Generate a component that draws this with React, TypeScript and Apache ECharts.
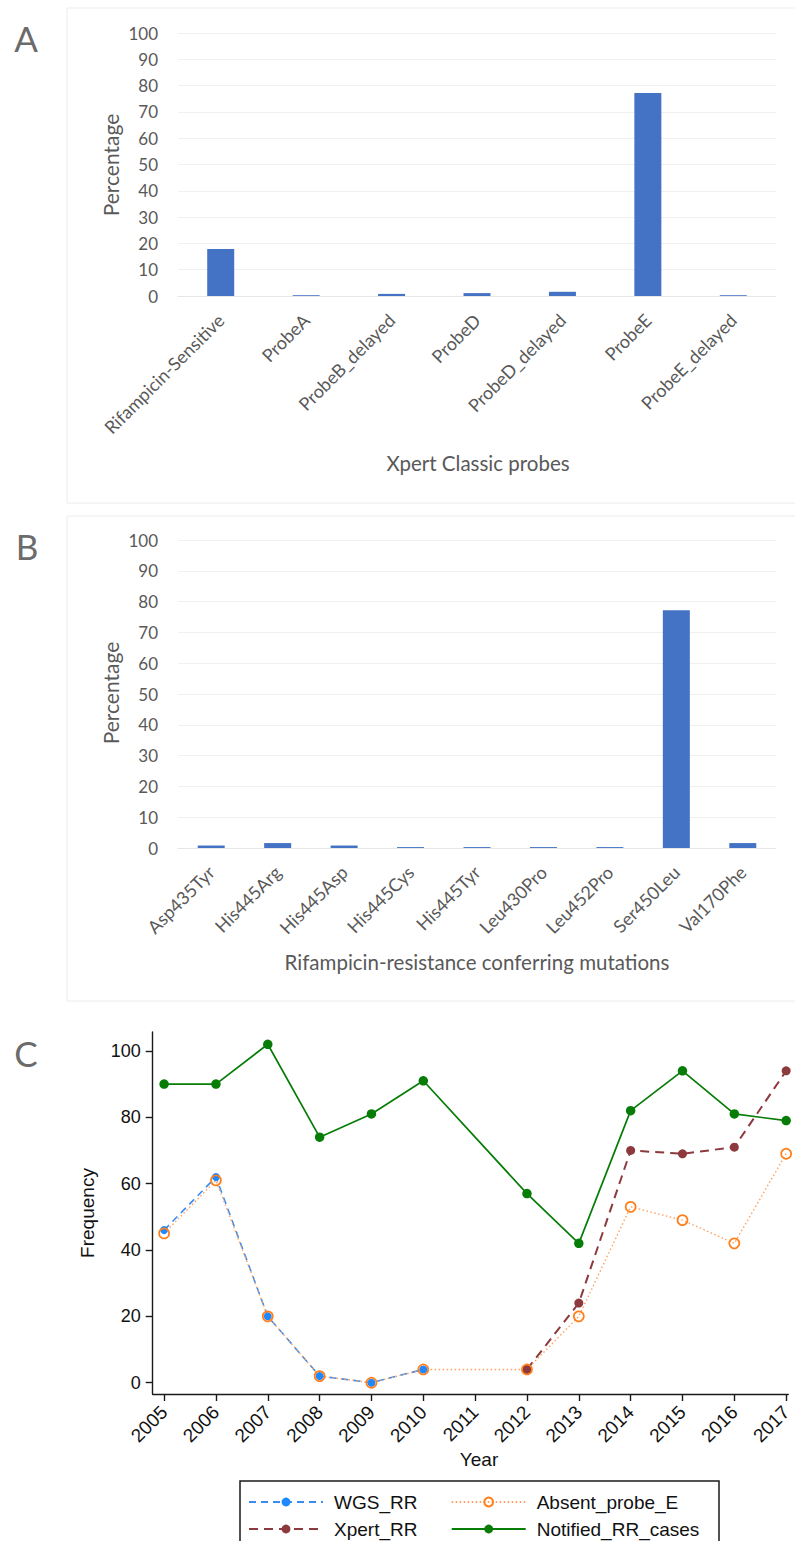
import React, { useEffect, useRef } from 'react';
import * as echarts from 'echarts';

const probeCategories = ['Rifampicin-Sensitive', 'ProbeA', 'ProbeB_delayed', 'ProbeD', 'ProbeD_delayed', 'ProbeE', 'ProbeE_delayed'];
const probeValues = [17.9, 0.3, 0.8, 1.1, 1.6, 77.2, 0.3];

const mutationCategories = ['Asp435Tyr', 'His445Arg', 'His445Asp', 'His445Cys', 'His445Tyr', 'Leu430Pro', 'Leu452Pro', 'Ser450Leu', 'Val170Phe'];
const mutationValues = [0.8, 1.6, 0.8, 0.3, 0.3, 0.3, 0.3, 77.2, 1.6];

const yearTicks = [2005, 2006, 2007, 2008, 2009, 2010, 2011, 2012, 2013, 2014, 2015, 2016, 2017];
const freqTicks = [0, 20, 40, 60, 80, 100];

const wgsYears = [2005, 2006, 2007, 2008, 2009, 2010];
const wgsValues = [46, 62, 20, 2, 0, 4];
const xpertYears = [2012, 2013, 2014, 2015, 2016, 2017];
const xpertValues = [4, 24, 70, 69, 71, 94];
const absentYears = [2005, 2006, 2007, 2008, 2009, 2010, 2012, 2013, 2014, 2015, 2016, 2017];
const absentValues = [45, 61, 20, 2, 0, 4, 4, 20, 53, 49, 42, 69];
const notifiedYears = [2005, 2006, 2007, 2008, 2009, 2010, 2012, 2013, 2014, 2015, 2016, 2017];
const notifiedValues = [90, 90, 102, 74, 81, 91, 57, 42, 82, 94, 81, 79];

const legendNames = ['WGS_RR', 'Absent_probe_E', 'Xpert_RR', 'Notified_RR_cases'];

const pairs = (xs: number[], ys: number[]) => xs.map((x, i) => [x, ys[i]]);

const XL_FONT = 'Lato, "Open Sans", sans-serif';
const ST_FONT = '"Liberation Sans", Arial, sans-serif';
const XL_GRAY = '#595959';

export default function App() {
  const ref = useRef<HTMLDivElement>(null);
  useEffect(() => {
    if (!ref.current) return;
    const chart = echarts.init(ref.current, undefined, { renderer: 'svg' });

    const excelY = (gridIndex: number) => ({
      type: 'value',
      gridIndex,
      min: 0,
      max: 100,
      interval: 10,
      axisLine: { show: false },
      axisTick: { show: false },
      axisLabel: { color: XL_GRAY, fontFamily: XL_FONT, fontSize: 17, margin: 20 },
      splitLine: { lineStyle: { color: '#f0f0f0', width: 1 } },
    });
    const excelX = (gridIndex: number, data: string[]) => ({
      type: 'category',
      gridIndex,
      data,
      axisLine: { onZero: false, lineStyle: { color: '#e6e6e6', width: 1 } },
      axisTick: { show: false },
      axisLabel: { color: XL_GRAY, fontFamily: XL_FONT, fontSize: 18, rotate: 45, interval: 0, margin: 21 },
      splitLine: { show: false },
    });

    const legendPos = [
      { left: 248, top: 1492.5 },
      { left: 450.7, top: 1492.5 },
      { left: 248, top: 1519.5 },
      { left: 450.7, top: 1519.5 },
    ];

    const option: any = {
      animation: false,
      backgroundColor: '#ffffff',
      grid: [
        { left: 178, top: 33, width: 598, height: 263 },
        { left: 178, top: 540, width: 598, height: 308 },
        { left: 152.7, top: 1032, width: 642.3, height: 362 },
      ],
      xAxis: [
        excelX(0, probeCategories),
        excelX(1, mutationCategories),
        {
          type: 'value',
          gridIndex: 2,
          min: 2004.78,
          max: 2017.04,
          axisLine: { onZero: false, lineStyle: { color: '#1a1a1a', width: 1.4 } },
          axisTick: { customValues: yearTicks, length: 7, lineStyle: { color: '#1a1a1a', width: 1.4 } },
          axisLabel: {
            customValues: yearTicks,
            rotate: 45,
            margin: 15,
            fontSize: 19,
            fontFamily: ST_FONT,
            color: '#111',
            formatter: (v: number) => String(v),
          },
          splitLine: { show: false },
        },
      ],
      yAxis: [
        excelY(0),
        excelY(1),
        {
          type: 'value',
          gridIndex: 2,
          min: -3.4,
          max: 105.7,
          axisLine: { show: true, onZero: false, lineStyle: { color: '#1a1a1a', width: 1.4 } },
          axisTick: { show: true, customValues: freqTicks, length: 7, lineStyle: { color: '#1a1a1a', width: 1.4 } },
          axisLabel: {
            customValues: freqTicks,
            margin: 12,
            fontSize: 18,
            fontFamily: ST_FONT,
            color: '#111',
          },
          splitLine: { show: false },
        },
      ],
      legend: legendNames.map((name, i) => ({
        orient: 'horizontal',
        left: legendPos[i].left,
        top: legendPos[i].top,
        padding: 0,
        itemWidth: 74,
        itemHeight: 11,
        selectedMode: false,
        data: [name],
        textStyle: { fontSize: 19, fontFamily: ST_FONT, color: '#111', padding: [0, 0, 0, 6] },
      })),
      series: [
        {
          type: 'bar',
          xAxisIndex: 0,
          yAxisIndex: 0,
          data: probeValues,
          barWidth: 27,
          itemStyle: { color: '#4472c4' },
        },
        {
          type: 'bar',
          xAxisIndex: 1,
          yAxisIndex: 1,
          data: mutationValues,
          barWidth: 27,
          itemStyle: { color: '#4472c4' },
        },
        {
          name: 'WGS_RR',
          type: 'line',
          xAxisIndex: 2,
          yAxisIndex: 2,
          data: pairs(wgsYears, wgsValues),
          symbol: 'circle',
          symbolSize: 8,
          itemStyle: { color: '#1e88ff' },
          lineStyle: { color: '#3a8df2', width: 1.6, type: [7, 5] },
        },
        {
          name: 'Xpert_RR',
          type: 'line',
          xAxisIndex: 2,
          yAxisIndex: 2,
          data: pairs(xpertYears, xpertValues),
          symbol: 'circle',
          symbolSize: 9,
          itemStyle: { color: '#8c3a3e' },
          lineStyle: { color: '#8c3a3e', width: 2, type: [9, 6] },
        },
        {
          name: 'Absent_probe_E',
          type: 'line',
          xAxisIndex: 2,
          yAxisIndex: 2,
          data: pairs(absentYears, absentValues),
          symbol: 'circle',
          symbolSize: 10,
          itemStyle: { color: 'rgba(255,255,255,0)', borderColor: '#ff7f1a', borderWidth: 1.7 },
          lineStyle: { color: '#ffa060', width: 1.4, type: [1.5, 2.5] },
        },
        {
          name: 'Notified_RR_cases',
          type: 'line',
          xAxisIndex: 2,
          yAxisIndex: 2,
          data: pairs(notifiedYears, notifiedValues),
          symbol: 'circle',
          symbolSize: 9.5,
          itemStyle: { color: '#077c07' },
          lineStyle: { color: '#077c07', width: 1.7 },
        },
      ],
      graphic: [
        { type: 'rect', shape: { x: 67, y: 8, width: 760, height: 495 }, style: { fill: 'none', stroke: '#ececec', lineWidth: 1 }, silent: true },
        { type: 'rect', shape: { x: 67, y: 516, width: 760, height: 485 }, style: { fill: 'none', stroke: '#ececec', lineWidth: 1 }, silent: true },
        { type: 'rect', shape: { x: 240, y: 1481, width: 479, height: 90 }, style: { fill: 'none', stroke: '#1a1a1a', lineWidth: 1.5 }, silent: true },
        { type: 'text', x: 26, y: 38, style: { text: 'A', fontSize: 35, fontFamily: XL_FONT, fill: '#6b6b6b', align: 'center', verticalAlign: 'middle' } },
        { type: 'text', x: 27, y: 546, style: { text: 'B', fontSize: 35, fontFamily: XL_FONT, fill: '#6b6b6b', align: 'center', verticalAlign: 'middle' } },
        { type: 'text', x: 26, y: 1053, style: { text: 'C', fontSize: 35, fontFamily: XL_FONT, fill: '#6b6b6b', align: 'center', verticalAlign: 'middle' } },
        { type: 'text', x: 110, y: 165, rotation: Math.PI / 2, style: { text: 'Percentage', fontSize: 21, fontFamily: XL_FONT, fill: XL_GRAY, align: 'center', verticalAlign: 'middle' } },
        { type: 'text', x: 110, y: 693, rotation: Math.PI / 2, style: { text: 'Percentage', fontSize: 21, fontFamily: XL_FONT, fill: XL_GRAY, align: 'center', verticalAlign: 'middle' } },
        { type: 'text', x: 478, y: 463, style: { text: 'Xpert Classic probes', fontSize: 20.5, fontFamily: XL_FONT, fill: XL_GRAY, align: 'center', verticalAlign: 'middle' } },
        { type: 'text', x: 477, y: 962, style: { text: 'Rifampicin-resistance conferring mutations', fontSize: 20.5, fontFamily: XL_FONT, fill: XL_GRAY, align: 'center', verticalAlign: 'middle' } },
        { type: 'text', x: 87, y: 1213, rotation: Math.PI / 2, style: { text: 'Frequency', fontSize: 19, fontFamily: ST_FONT, fill: '#111', align: 'center', verticalAlign: 'middle' } },
        { type: 'text', x: 479, y: 1459, style: { text: 'Year', fontSize: 19, fontFamily: ST_FONT, fill: '#111', align: 'center', verticalAlign: 'middle' } },
      ],
    };
    chart.setOption(option);
    return () => chart.dispose();
  }, []);
  return <div ref={ref} style={{ position: 'absolute', left: 0, top: 0, width: 795, height: 1541 }} />;
}
